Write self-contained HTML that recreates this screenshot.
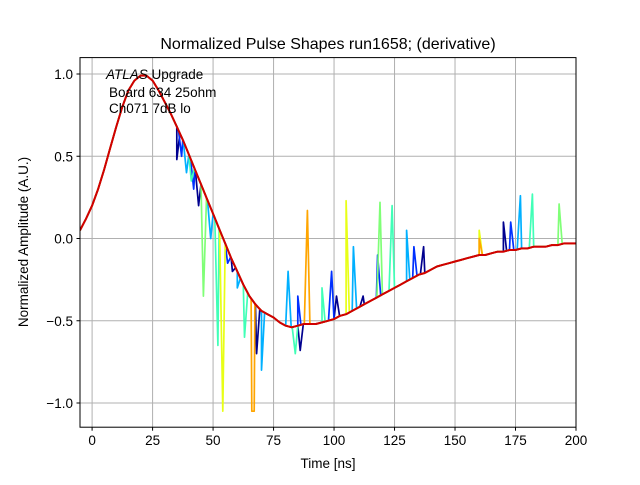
<!DOCTYPE html>
<html><head><meta charset="utf-8"><style>
body{margin:0;background:#fff;}
svg{font-family:"Liberation Sans","DejaVu Sans",sans-serif;}
</style></head><body>
<svg id="chart" width="640" height="480" viewBox="0 0 640 480">
<rect width="640" height="480" fill="#fff"/>
<g id="grid"></g>
<g id="lines" clip-path="url(#clip)"></g>
<defs><clipPath id="clip"><rect x="80" y="57.6" width="496" height="369.6"/></clipPath></defs>
<rect x="80" y="57.6" width="496" height="369.6" fill="none" stroke="#000" stroke-width="1"/>
<g id="ticks"></g>
<text x="328" y="49" font-size="16" text-anchor="middle">Normalized Pulse Shapes run1658; (derivative)</text>
<text x="328" y="468" font-size="13.5" text-anchor="middle">Time [ns]</text>
<text x="28" y="242" font-size="13.5" text-anchor="middle" transform="rotate(-90 28 242)">Normalized Amplitude (A.U.)</text>
<g font-size="13.5">
<text x="106" y="79"><tspan font-style="italic">ATLAS</tspan> Upgrade</text>
<text x="109" y="97">Board 634 25ohm</text>
<text x="109" y="113">Ch071 7dB lo</text>
</g>
</svg>
<script>
const times=[-5,-2.5,0,2.5,5,7.5,10,12.5,15,17.5,20,22.5,25,27.5,30,32.5,35,37.5,40,42.5,45,47.5,50,52.5,55,57.5,60,62.5,65,67.5,70,72.5,75,77.5,80,82.5,85,87.5,90,92.5,95,97.5,100,102.5,105,107.5,110,112.5,115,117.5,120,122.5,125,127.5,130,132.5,135,137.5,140,142.5,145,147.5,150,152.5,155,157.5,160,162.5,165,167.5,170,172.5,175,177.5,180,182.5,185,187.5,190,192.5,195,197.5,200];
const baseShape=[0.05,0.12,0.2,0.3,0.42,0.55,0.68,0.8,0.9,0.96,0.99,0.99,0.96,0.9,0.83,0.76,0.68,0.6,0.51,0.42,0.33,0.24,0.15,0.06,-0.03,-0.12,-0.2,-0.28,-0.35,-0.4,-0.44,-0.46,-0.48,-0.51,-0.53,-0.54,-0.53,-0.52,-0.52,-0.52,-0.51,-0.5,-0.49,-0.47,-0.46,-0.44,-0.42,-0.4,-0.38,-0.36,-0.34,-0.32,-0.3,-0.28,-0.26,-0.24,-0.22,-0.21,-0.19,-0.17,-0.16,-0.15,-0.14,-0.13,-0.12,-0.11,-0.1,-0.1,-0.09,-0.08,-0.08,-0.07,-0.07,-0.06,-0.06,-0.05,-0.05,-0.05,-0.04,-0.04,-0.03,-0.03,-0.03];
const seriesColors=["#00008f","#0030ff","#00b0ff","#40ffb7","#80ff77","#e8ff16","#ffa500","#ff4000","#d00000"];
const spikeTimes=[[35,44,58,68,86,101,112,137,170],[37,42,56,85,99,118,133,173],[39,49,60,70,81,108,130,177],[41,52,63,84,95,124,182],[46,119,193],[54,105,160],[66,67,89,160],[],[]];
const spikeValues=[[0.48,0.2,-0.2,-0.7,-0.68,-0.35,-0.35,-0.05,0.1],[0.5,0.3,-0.15,-0.35,-0.2,-0.1,-0.05,0.1],[0.4,0.0,-0.3,-0.8,-0.2,-0.05,0.05,0.26],[0.35,-0.65,-0.6,-0.7,-0.3,0.2,0.27],[-0.35,0.22,0.21],[-1.05,0.23,0.05],[-1.05,-1.05,0.17,0.0],[],[]];
const xTicks=[0,25,50,75,100,125,150,175,200];
const yTicks=[-1.0,-0.5,0.0,0.5,1.0];
const yTickLabels=["\u22121.0","\u22120.5","0.0","0.5","1.0"];
const X=t=>80+(t+5)*496/205;
const Y=v=>74+(1-v)*164.5;
const NS="http://www.w3.org/2000/svg";
function mk(tag,attrs,parent){const e=document.createElementNS(NS,tag);for(const k in attrs)e.setAttribute(k,attrs[k]);parent.appendChild(e);return e;}
function baseAt(t){for(let i=0;i<times.length-1;i++){if(t>=times[i]&&t<=times[i+1]){const f=(t-times[i])/(times[i+1]-times[i]);return baseShape[i]+f*(baseShape[i+1]-baseShape[i]);}}return baseShape[baseShape.length-1];}
const grid=document.getElementById('grid'),ticks=document.getElementById('ticks'),lines=document.getElementById('lines');
xTicks.forEach(t=>{
 const g=mk('line',{x1:X(t),x2:X(t),y1:57.6,y2:427.2,stroke:'#b0b0b0','stroke-width':1},grid);
 
 
 mk('line',{x1:X(t),x2:X(t),y1:427.2,y2:430.7,stroke:'#000'},ticks);
 const l=mk('text',{x:X(t),y:445,'font-size':13.5,'text-anchor':'middle'},ticks);l.textContent=t;
 
 
});
yTicks.forEach((v,i)=>{
 const g=mk('line',{x1:80,x2:576,y1:Y(v),y2:Y(v),stroke:'#b0b0b0','stroke-width':1},grid);
 
 
 mk('line',{x1:76.5,x2:80,y1:Y(v),y2:Y(v),stroke:'#000'},ticks);
 const l=mk('text',{x:73,y:Y(v)+5,'font-size':13.5,'text-anchor':'end'},ticks);l.textContent=yTickLabels[i];
 
 
});
seriesColors.forEach((c,s)=>{
 let pts=times.map((t,i)=>[t,baseShape[i]]);
 spikeTimes[s].forEach((t,k)=>{pts.push([t-1.3,baseAt(t-1.3)]);pts.push([t,spikeValues[s][k]]);pts.push([t+1.3,baseAt(t+1.3)]);});
 pts.sort((a,b)=>a[0]-b[0]);
 const d=pts.map((p,i)=>(i?'L':'M')+X(p[0]).toFixed(1)+' '+Y(p[1]).toFixed(1)).join(' ');
 const p=mk('path',{d:d,fill:'none',stroke:c,'stroke-width':s===8?2:1.7,'stroke-linejoin':'round'},lines);
 
 
});
</script>
</body></html>
